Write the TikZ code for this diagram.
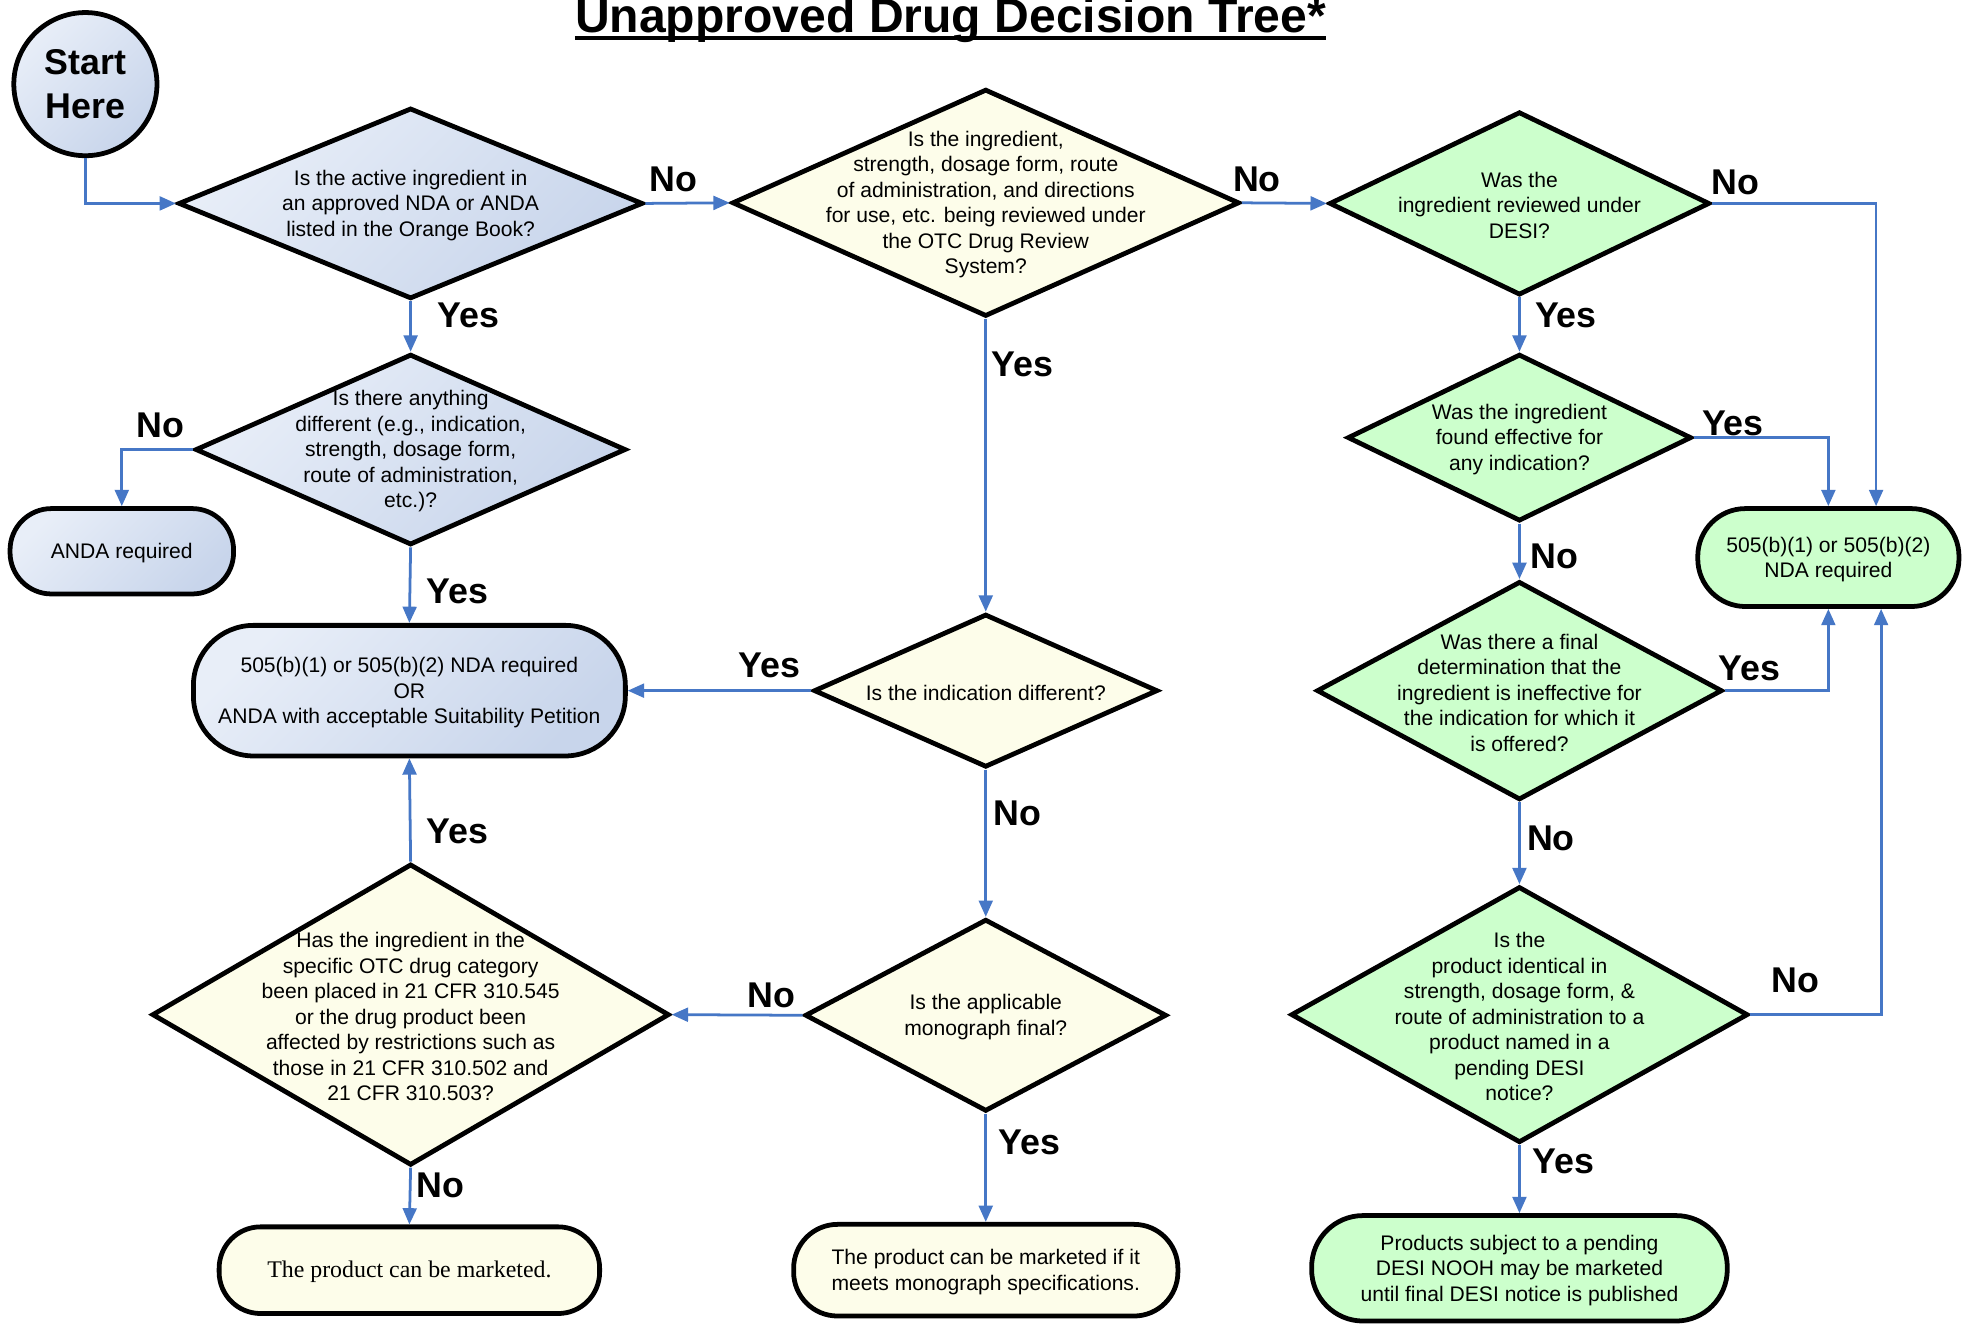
\documentclass[tikz,border=0pt]{standalone}
\usepackage{fontspec}
\setmainfont{Liberation Sans}
\newfontfamily\serifR{Liberation Serif}
\usetikzlibrary{shapes.geometric,arrows.meta}
\definecolor{bluL}{HTML}{E8EEF8}
\definecolor{bluD}{HTML}{C8D5EB}
\definecolor{yel}{HTML}{FDFDEA}
\definecolor{grn}{HTML}{CCFFCC}
\definecolor{arrc}{HTML}{4677C6}
\tikzset{
 shp/.style={draw=black, line width=3.8pt, inner sep=0pt},
 dia/.style={shp, diamond, aspect=2},
 term/.style={shp, rectangle, rounded corners=#1},
 bluefill/.style={top color=bluL, bottom color=bluD, shading angle=45},
 yelfill/.style={fill=yel},
 grnfill/.style={fill=grn},
 qtxt/.style={inner sep=0pt, align=center, yshift=-1.5pt, font=\fontsize{16.8}{20.3}\selectfont},
 yn/.style={inner sep=0pt, font=\bfseries\fontsize{28.5}{30}\selectfont},
 arr/.style={draw=arrc, line width=2.2pt, -{Triangle[length=13pt,width=11pt]}},
}
\begin{document}
\begin{tikzpicture}[x=1pt,y=-1pt]
\useasboundingbox (0,0) rectangle (1568,1054);
\fill[white] (0,0) rectangle (1568,1054);

% title
\node[inner sep=0pt, anchor=base, font=\bfseries\fontsize{38.3}{40}\selectfont] (title) at (757,26) {Unapproved Drug Decision Tree*};
\draw[line width=3pt] ([yshift=-4.5pt]title.base west) -- ([yshift=-4.5pt]title.base east);

% start
\node[shp, circle, bluefill, minimum size=114pt, align=center, font=\bfseries\fontsize{28.5}{35}\selectfont] (start) at (68,67) {Start\\Here};

% diamonds
\node[dia, bluefill, minimum width=370pt, minimum height=152pt] (d1) at (327,162) {};
\node[qtxt] (d1t) at (d1) {Is the active ingredient in\\an approved NDA or ANDA\\listed in the Orange Book?};

\node[dia, yelfill, minimum width=404pt, minimum height=181pt] (d2) at (785,161.5) {};
\node[qtxt] (d2t) at (d2) {Is the ingredient,\\strength, dosage form, route\\of administration, and directions\\for use, etc. being reviewed under\\the OTC Drug Review\\System?};

\node[dia, grnfill, minimum width=303pt, minimum height=146pt] (d3) at (1210,162) {};
\node[qtxt] (d3t) at (d3) {Was the\\ingredient reviewed under\\DESI?};

\node[dia, grnfill, minimum width=274pt, minimum height=133pt] (d4) at (1210,348.5) {};
\node[qtxt] (d4t) at (d4) {Was the ingredient\\found effective for\\any indication?};

\node[dia, grnfill, minimum width=323pt, minimum height=174pt] (d5) at (1210,550) {};
\node[qtxt] (d5t) at (d5) {Was there a final\\determination that the\\ingredient is ineffective for\\the indication for which it\\is offered?};

\node[dia, grnfill, minimum width=364pt, minimum height=204pt] (d6) at (1210,808) {};
\node[qtxt] (d6t) at (d6) {Is the\\product identical in\\strength, dosage form, \&\\route of administration to a\\product named in a\\pending DESI\\notice?};

\node[dia, bluefill, minimum width=343pt, minimum height=152pt] (d7) at (327,358) {};
\node[qtxt] (d7t) at (d7) {Is there anything\\different (e.g., indication,\\strength, dosage form,\\route of administration,\\etc.)?};

\node[dia, yelfill, minimum width=274pt, minimum height=122pt] (d8) at (785,550) {};
\node[qtxt] (d8t) at (d8) {Is the indication different?};

\node[dia, yelfill, minimum width=288pt, minimum height=153pt] (d9) at (785,808.5) {};
\node[qtxt] (d9t) at (d9) {Is the applicable\\monograph final?};

\node[dia, yelfill, minimum width=412pt, minimum height=240pt] (d10) at (327,808) {};
\node[qtxt] (d10t) at (d10) {Has the ingredient in the\\specific OTC drug category\\been placed in 21 CFR 310.545\\or the drug product been\\affected by restrictions such as\\those in 21 CFR 310.502 and\\21 CFR 310.503?};

% terminal boxes
\node[term=33pt, bluefill, minimum width=178pt, minimum height=68pt] (anda) at (97,439) {};
\node[qtxt] (andat) at (anda) {ANDA required};

\node[term=48pt, bluefill, minimum width=344pt, minimum height=104pt] (r2) at (326,550) {};
\node[qtxt] (r2t) at (r2) {505(b)(1) or 505(b)(2) NDA required\\OR\\ANDA with acceptable Suitability Petition};

\node[term=38pt, grnfill, minimum width=208pt, minimum height=78pt] (r1) at (1456,444) {};
\node[qtxt] (r1t) at (r1) {505(b)(1) or 505(b)(2)\\NDA required};

\node[term=33pt, yelfill, minimum width=303pt, minimum height=69pt] (r3) at (326,1011.5) {};
\node[qtxt, font=\serifR\fontsize{19}{22}\selectfont] (r3t) at (r3) {The product can be marketed.};

\node[term=35pt, yelfill, minimum width=306pt, minimum height=73pt] (r4) at (785,1011.5) {};
\node[qtxt] (r4t) at (r4) {The product can be marketed if it\\meets monograph specifications.};

\node[term=41pt, grnfill, minimum width=331pt, minimum height=84pt] (r6) at (1210,1010) {};
\node[qtxt] (r6t) at (r6) {Products subject to a pending\\DESI NOOH may be marketed\\until final DESI notice is published};

% connectors
\draw[arr] (start.south) |- (d1.west);
\draw[arr] (d1.east) -- (d2.west);
\draw[arr] (d2.east) -- (d3.west);
\draw[arr] (d3.east) -| ([xshift=38pt]r1.north);
\draw[arr] (d3.south) -- (d4.north);
\draw[arr] (d4.east) -| (r1.north);
\draw[arr] (d4.south) -- (d5.north);
\draw[arr] (d5.east) -| (r1.south);
\draw[arr] (d5.south) -- (d6.north);
\draw[arr] (d6.east) -| ([xshift=42pt]r1.south);
\draw[arr] (d6.south) -- (r6.north);
\draw[arr] (d1.south) -- (d7.north);
\draw[arr] (d7.west) -| (anda.north);
\draw[arr] (d7.south) -- (r2.north);
\draw[arr] (d2.south) -- (d8.north);
\draw[arr] (d8.west) -- (r2.east);
\draw[arr] (d8.south) -- (d9.north);
\draw[arr] (d9.west) -- (d10.east);
\draw[arr] (d10.north) -- (r2.south);
\draw[arr] (d10.south) -- (r3.north);
\draw[arr] (d9.south) -- (r4.north);

% labels
\node[yn] (l1) at (536,143) {No};
\node[yn] (l2) at (1001,143) {No};
\node[yn] (l3) at (1382,145) {No};
\node[yn] (l4) at (1247,251) {Yes};
\node[yn] (l5) at (1380,337) {Yes};
\node[yn] (l6) at (1238,443) {No};
\node[yn] (l7) at (1393,532) {Yes};
\node[yn] (l8) at (1235,668) {No};
\node[yn] (l9) at (1430,781) {No};
\node[yn] (l10) at (1245,925) {Yes};
\node[yn] (l11) at (373,251) {Yes};
\node[yn] (l12) at (128,339) {No};
\node[yn] (l13) at (364,471) {Yes};
\node[yn] (l14) at (814,290) {Yes};
\node[yn] (l15) at (613,530) {Yes};
\node[yn] (l16) at (810,648) {No};
\node[yn] (l17) at (614,793) {No};
\node[yn] (l18) at (364,662) {Yes};
\node[yn] (l19) at (351,944) {No};
\node[yn] (l20) at (820,910) {Yes};
\end{tikzpicture}
\end{document}
